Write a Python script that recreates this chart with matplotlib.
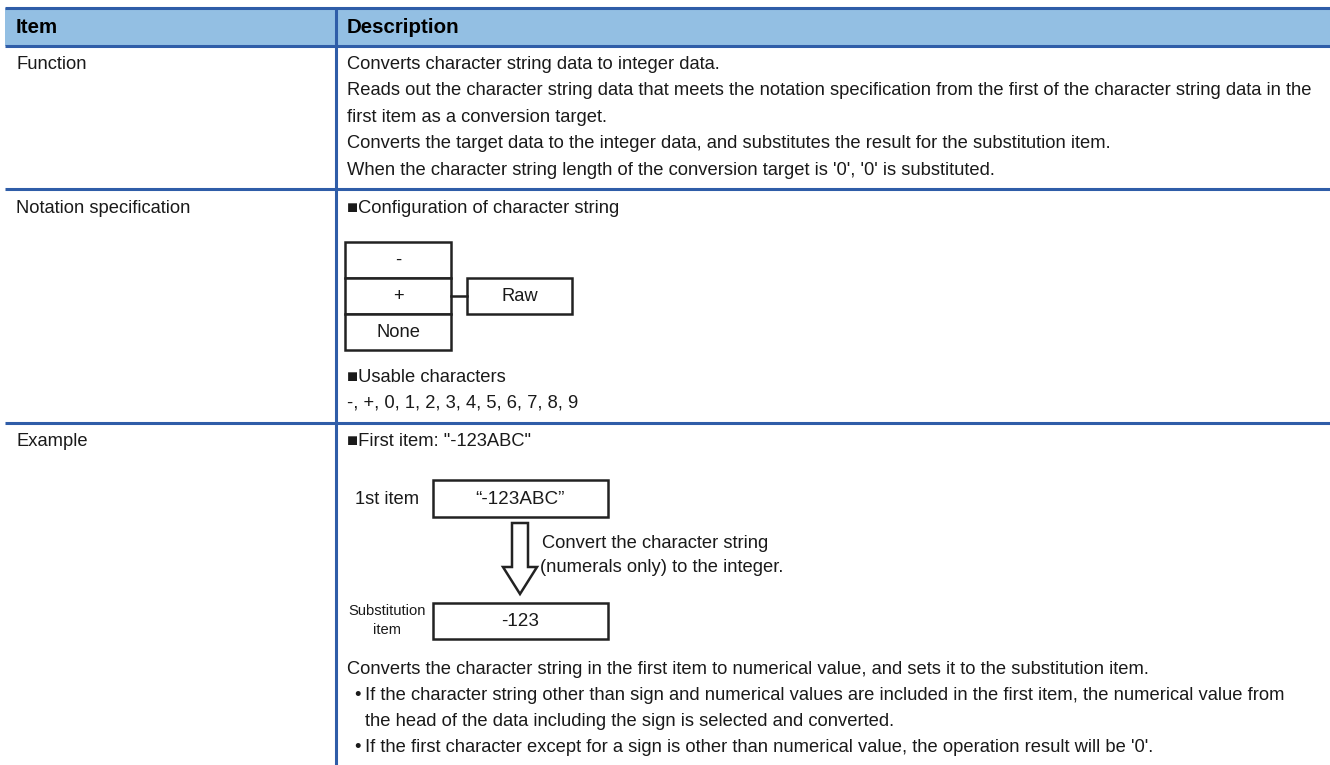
import matplotlib.pyplot as plt
from matplotlib.patches import Rectangle, Polygon

plt.rcParams["font.family"] = ["Liberation Sans", "DejaVu Sans"]

# Table content
header = ["Item", "Description"]
items = ["Function", "Notation specification", "Example"]

function_lines = [
    "Converts character string data to integer data.",
    "Reads out the character string data that meets the notation specification from the first of the character string data in the",
    "first item as a conversion target.",
    "Converts the target data to the integer data, and substitutes the result for the substitution item.",
    "When the character string length of the conversion target is '0', '0' is substituted.",
]
sign_options = ["-", "+", "None"]
usable_chars = "-, +, 0, 1, 2, 3, 4, 5, 6, 7, 8, 9"
example_input = "\u201c-123ABC\u201d"
example_result = "-123"
convert_note = ["Convert the character string", "(numerals only) to the integer."]
example_lines = [
    "Converts the character string in the first item to numerical value, and sets it to the substitution item.",
    "If the character string other than sign and numerical values are included in the first item, the numerical value from",
    "the head of the data including the sign is selected and converted.",
    "If the first character except for a sign is other than numerical value, the operation result will be '0'.",
]

BLUE = "#2f5da8"
HEAD = "#93bfe3"
INK = "#1a1a1a"
FS = 13.2

fig = plt.figure(figsize=(13.3, 7.65), dpi=100)
ax = fig.add_axes([0, 0, 1, 1])
ax.set_xlim(0, 1330)
ax.set_ylim(765, 0)
ax.axis("off")

# header band and grid lines
ax.add_patch(Rectangle((5, 8), 1325, 38, facecolor=HEAD, edgecolor="none"))
for y in [8, 46, 189, 423]:
    ax.plot([5, 1330], [y, y], color=BLUE, lw=2.2, solid_capstyle="butt")
ax.plot([336, 336], [8, 765], color=BLUE, lw=2.2, solid_capstyle="butt")

ax.text(16, 27, header[0], fontsize=14.8, fontweight="bold", va="center")
ax.text(347, 27, header[1], fontsize=14.8, fontweight="bold", va="center")

for name, y in zip(items, [64, 208, 441]):
    ax.text(16, y, name, fontsize=FS, va="center", color=INK)

# Function row
for i, line in enumerate(function_lines):
    ax.text(347, 64 + i * 26.5, line, fontsize=FS, va="center", color=INK)

# Notation specification row
ax.text(347, 208, "\u25a0Configuration of character string", fontsize=FS, va="center", color=INK)
for i, s in enumerate(sign_options):
    top = 242 + i * 36
    ax.add_patch(Rectangle((345, top), 106, 36, facecolor="white", edgecolor="#222222", lw=1.8))
    ax.text(398, top + 18, s, fontsize=FS, ha="center", va="center", color=INK)
ax.plot([451, 467], [296, 296], color="#222222", lw=1.8)
ax.add_patch(Rectangle((467, 278), 105, 36, facecolor="white", edgecolor="#222222", lw=1.8))
ax.text(519.5, 296, "Raw", fontsize=FS, ha="center", va="center", color=INK)
ax.text(347, 377, "\u25a0Usable characters", fontsize=FS, va="center", color=INK)
ax.text(347, 403, usable_chars, fontsize=FS, va="center", color=INK)

# Example row
ax.text(347, 441, "\u25a0First item: \"-123ABC\"", fontsize=FS, va="center", color=INK)
ax.text(419, 499, "1st item", fontsize=FS, ha="right", va="center", color=INK)
ax.add_patch(Rectangle((433, 480), 175, 37, facecolor="white", edgecolor="#222222", lw=1.8))
ax.text(520.5, 499, example_input, fontsize=13.6, ha="center", va="center", color=INK)

arrow = [(512, 523), (528, 523), (528, 567), (537, 567), (520, 594),
         (503, 567), (512, 567)]
ax.add_patch(Polygon(arrow, closed=True, facecolor="white", edgecolor="#222222", lw=1.8))
ax.text(542, 543, convert_note[0], fontsize=FS, va="center", color=INK)
ax.text(540, 567, convert_note[1], fontsize=FS, va="center", color=INK)

ax.text(387, 611, "Substitution", fontsize=10.6, ha="center", va="center", color=INK)
ax.text(387, 630, "item", fontsize=10.6, ha="center", va="center", color=INK)
ax.add_patch(Rectangle((433, 603), 175, 36, facecolor="white", edgecolor="#222222", lw=1.8))
ax.text(520.5, 621, example_result, fontsize=13.6, ha="center", va="center", color=INK)

ax.text(347, 670, example_lines[0], fontsize=FS, va="center", color=INK)
ax.text(354, 696, "\u2022", fontsize=FS, va="center", color=INK)
ax.text(365, 696, example_lines[1], fontsize=FS, va="center", color=INK)
ax.text(365, 722, example_lines[2], fontsize=FS, va="center", color=INK)
ax.text(354, 748, "\u2022", fontsize=FS, va="center", color=INK)
ax.text(365, 748, example_lines[3], fontsize=FS, va="center", color=INK)

fig.savefig("out.png", dpi=100, facecolor="white")
